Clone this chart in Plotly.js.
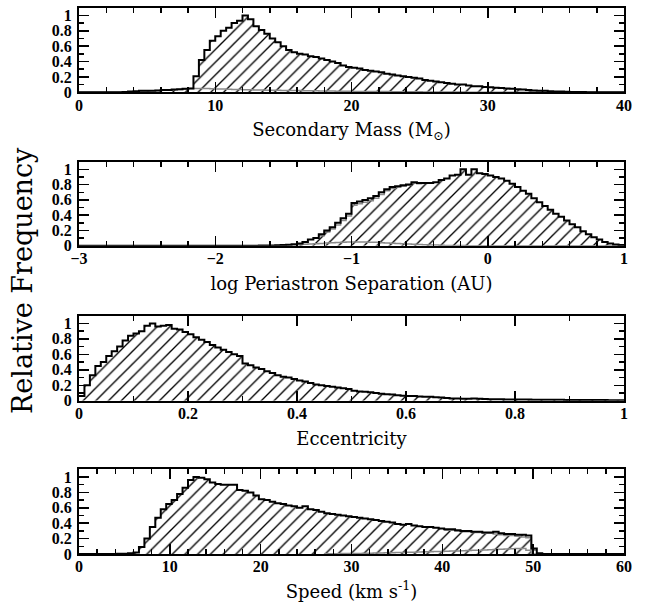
<!DOCTYPE html>
<html>
<head>
<meta charset="utf-8">
<script src="https://cdn.plot.ly/plotly-3.0.1.min.js"></script>
<style>html,body{margin:0;padding:0;background:#fff;}#plot{width:650px;height:602px;}</style>
</head>
<body>
<div id="plot"></div>
<script>
// ---------- Data (relative frequency per bin) ----------
// Panel 1: Secondary mass, 100 bins of 0.4 Msun from 0
const massStart = 0, massWidth = 0.4;
const massMain = [
 0,0,0,0,0,0,0,0,0.005,0.01, 0.015,0.02,0.02,0.02,0.025,0.03,0.03,0.035,0.04,0.045,
 0.05,0.21,0.42,0.55,0.67,0.73,0.8,0.84,0.9,0.93, 1.0,0.95,0.86,0.81,0.76,0.7,0.65,0.6,0.55,0.52,
 0.5,0.49,0.47,0.46,0.44,0.42,0.4,0.38,0.35,0.33, 0.32,0.31,0.29,0.28,0.27,0.26,0.24,0.23,0.22,0.21,
 0.2,0.19,0.18,0.16,0.15,0.14,0.13,0.12,0.11,0.1, 0.1,0.09,0.08,0.08,0.07,0.065,0.06,0.055,0.05,0.045,
 0.04,0.035,0.03,0.025,0.02,0.02,0.015,0.012,0.01,0.008, 0.005,0.004,0.003,0.002,0.002,0.001,0,0,0,0
];
const massSub = [
 0,0,0,0,0,0,0,0,0.004,0.008, 0.012,0.018,0.018,0.02,0.022,0.028,0.028,0.032,0.038,0.042,
 0.048,0.05,0.05,0.048,0.046,0.044,0.042,0.04,0.038,0.036, 0.034,0.032,0.03,0.029,0.028,0.027,0.026,0.025,0.024,0.023,
 0.022,0.021,0.02,0.019,0.018,0.017,0.016,0.015,0.014,0.013, 0.012,0.012,0.011,0.01,0.01,0.009,0.009,0.008,0.008,0.007,
 0.007,0.006,0.006,0.005,0.005,0.004,0.004,0.004,0.003,0.003, 0.003,0.002,0.002,0.002,0.002,0.001,0.001,0.001,0.001,0.001,
 0,0,0,0,0,0,0,0,0,0, 0,0,0,0,0,0,0,0,0,0
];

// Panel 2: log periastron separation, 100 bins of 0.04 from -3
const perStart = -3, perWidth = 0.04;
const perMain = [
 0,0,0,0,0,0,0,0,0,0, 0,0,0,0,0,0,0,0,0,0,
 0,0,0,0,0,0,0,0,0,0, 0,0,0,0.001,0.002,0.003,0.005,0.008,0.012,0.02,
 0.03,0.05,0.08,0.1,0.15,0.2,0.24,0.3,0.36,0.42, 0.56,0.58,0.6,0.62,0.65,0.7,0.74,0.77,0.78,0.79,
 0.8,0.83,0.82,0.82,0.82,0.83,0.86,0.88,0.92,0.93, 1.0,0.93,1.0,0.95,0.94,0.92,0.9,0.88,0.85,0.81,
 0.77,0.72,0.68,0.62,0.57,0.52,0.47,0.42,0.38,0.33, 0.28,0.24,0.19,0.15,0.11,0.08,0.05,0.03,0.015,0.01
];
// grey companion histogram (differs from the main one only between -1.24 and -0.48)
const perAltStart = -1.24;
const perAlt = [0.13,0.18,0.22,0.27,0.33,0.39,0.53,0.55,0.57,0.59,0.62,0.67,0.72,0.75,0.77,0.78,0.79,0.82,0.81];
const perSub = [
 0,0,0,0,0,0,0,0,0,0, 0,0,0,0,0,0,0,0,0,0,
 0,0,0,0,0,0,0,0,0,0, 0,0,0,0,0,0,0.002,0.004,0.006,0.01,
 0.014,0.018,0.022,0.026,0.03,0.034,0.038,0.042,0.046,0.048, 0.05,0.05,0.048,0.046,0.044,0.04,0.036,0.032,0.03,0.026,
 0.022,0.018,0.015,0.012,0.01,0.008,0.006,0.004,0.003,0.002, 0.001,0,0,0,0,0,0,0,0,0,
 0,0,0,0,0,0,0,0,0,0, 0,0,0,0,0,0,0,0,0,0
];

// Panel 3: eccentricity, 100 bins of 0.01 from 0
const eccStart = 0, eccWidth = 0.01;
const eccMain = [
 0.06,0.2,0.33,0.45,0.5,0.58,0.64,0.7,0.78,0.84, 0.87,0.9,0.97,1.0,0.96,0.97,0.98,0.93,0.92,0.89,
 0.86,0.82,0.79,0.76,0.72,0.69,0.66,0.63,0.6,0.58, 0.48,0.46,0.43,0.41,0.38,0.36,0.33,0.31,0.3,0.28,
 0.26,0.25,0.23,0.21,0.2,0.19,0.18,0.17,0.16,0.15, 0.13,0.12,0.115,0.11,0.1,0.09,0.085,0.08,0.07,0.065,
 0.06,0.06,0.055,0.05,0.05,0.045,0.04,0.035,0.03,0.03, 0.025,0.025,0.03,0.025,0.022,0.02,0.02,0.018,0.017,0.016,
 0.015,0.015,0.014,0.013,0.013,0.012,0.012,0.011,0.011,0.01, 0.01,0.01,0.009,0.009,0.008,0.008,0.008,0.007,0.007,0.006
];

// Panel 4: speed, 100 bins of 0.6 km/s from 0
const spdStart = 0, spdWidth = 0.6;
const spdMain = [
 0,0,0,0,0,0,0,0.002,0.004,0.01, 0.02,0.09,0.2,0.35,0.47,0.58,0.65,0.7,0.78,0.86,
 0.96,1.0,0.99,0.97,0.93,0.91,0.9,0.9,0.9,0.83, 0.82,0.8,0.76,0.71,0.7,0.68,0.66,0.65,0.63,0.62,
 0.6,0.62,0.58,0.57,0.55,0.53,0.52,0.51,0.5,0.49, 0.48,0.47,0.46,0.45,0.44,0.43,0.42,0.41,0.39,0.38,
 0.39,0.37,0.36,0.35,0.35,0.34,0.33,0.32,0.32,0.31, 0.3,0.3,0.29,0.29,0.28,0.28,0.29,0.27,0.26,0.26,
 0.25,0.25,0.24,0.07,0.01,0,0,0,0,0, 0,0,0,0,0,0,0,0,0,0
];
// grey companion histogram from 40.2 km/s
const spdAltStart = 40.2;
const spdAlt = [0.31,0.31,0.3,0.29,0.29,0.28,0.28,0.27,0.27,0.26,0.25,0.24,0.24,0.23,0.22,0.21,0.05];
const spdSubStart = 27.0;
const spdSub = [0.002,0.003,0.004,0.005,0.006,0.007,0.008,0.009,0.01,0.012,0.013,0.015,0.016,0.018,0.02,0.022,0.024,0.026,0.028,0.03,
 0.032,0.034,0.036,0.038,0.04,0.042,0.045,0.048,0.05,0.053,0.056,0.06,0.063,0.066,0.068,0.07,0.072,0.05,0.0];

// ---------- Build ----------
function steps(start, width, vals) {
  const x = vals.map((v, i) => start + i * width);
  x.push(start + vals.length * width);
  const y = vals.slice();
  y.push(vals[vals.length - 1]);
  return {x, y};
}
const hatch = {shape: '/', fgcolor: '#000', bgcolor: 'rgba(0,0,0,0)', size: 9, solidity: 0.15};
function fillTrace(s, ax) {
  return {x: s.x, y: s.y, xaxis: 'x' + ax, yaxis: 'y' + ax, type: 'scatter', mode: 'lines',
    line: {shape: 'hv', width: 0, color: 'rgba(0,0,0,0)'}, fill: 'tozeroy', fillcolor: 'rgba(0,0,0,0)',
    fillpattern: hatch, hoverinfo: 'skip'};
}
function lineTrace(s, ax, color, w) {
  return {x: s.x, y: s.y, xaxis: 'x' + ax, yaxis: 'y' + ax, type: 'scatter', mode: 'lines',
    line: {shape: 'hv', width: w, color: color}, hoverinfo: 'skip'};
}
const panels = [
  {main: steps(massStart, massWidth, massMain), greys: [steps(massStart, massWidth, massSub)]},
  {main: steps(perStart, perWidth, perMain), greys: [steps(perAltStart, perWidth, perAlt), steps(perStart, perWidth, perSub)]},
  {main: steps(eccStart, eccWidth, eccMain), greys: []},
  {main: steps(spdStart, spdWidth, spdMain), greys: [steps(spdAltStart, spdWidth, spdAlt), steps(spdSubStart, spdWidth, spdSub)]}
];
const traces = [];
panels.forEach((p, i) => {
  const ax = i === 0 ? '' : String(i + 1);
  traces.push(fillTrace(p.main, ax));
  p.greys.forEach(g => traces.push(lineTrace(g, ax, '#8a8a8a', 1.5)));
  traces.push(lineTrace(p.main, ax, '#000', 2));
});

const tickFont = {family: 'Liberation Serif', size: 16, color: '#000', weight: 'bold'};
const titleFont = {family: 'DejaVu Serif', size: 18, color: '#000'};
function xax(range, dtick, minor, title, anchor) {
  return {range: range, domain: [79/650, 624/650], anchor: anchor, dtick: dtick, tick0: 0,
    ticks: 'inside', ticklen: 10, tickwidth: 1.5, tickcolor: '#000',
    minor: {dtick: minor, ticks: 'inside', ticklen: 5, tickwidth: 1.5, tickcolor: '#000', showgrid: false},
    showline: true, linewidth: 2, linecolor: '#000', mirror: 'allticks', showgrid: false, zeroline: false,
    tickfont: tickFont, ticklabelstandoff: -3, title: {text: title, font: titleFont, standoff: 11}, fixedrange: true};
}
function yax(dom, anchor) {
  return {range: [0, 1.1], domain: dom, anchor: anchor, dtick: 0.2, tick0: 0,
    ticks: 'inside', ticklen: 10, tickwidth: 1.5, tickcolor: '#000',
    minor: {dtick: 0.1, ticks: 'inside', ticklen: 5, tickwidth: 1.5, tickcolor: '#000', showgrid: false},
    showline: true, linewidth: 2, linecolor: '#000', mirror: 'allticks', showgrid: false, zeroline: false,
    tickfont: tickFont, ticklabelstandoff: 2, fixedrange: true};
}
const layout = {
  width: 650, height: 602, margin: {l: 0, r: 0, t: 0, b: 0},
  paper_bgcolor: '#fff', plot_bgcolor: '#fff', showlegend: false,
  xaxis: xax([0, 40], 10, 2, 'Secondary Mass (M<sub>⊙</sub>)', 'y'),
  yaxis: yax([1 - 92.3/602, 1 - 7.7/602], 'x'),
  xaxis2: xax([-3, 1], 1, 0.2, 'log Periastron Separation (AU)', 'y2'),
  yaxis2: yax([1 - 245.7/602, 1 - 161.7/602], 'x2'),
  xaxis3: xax([0, 1], 0.2, 0.1, 'Eccentricity', 'y3'),
  yaxis3: yax([1 - 400.7/602, 1 - 315.7/602], 'x3'),
  xaxis4: xax([0, 60], 10, 2, 'Speed (km s<sup>-1</sup>)', 'y4'),
  yaxis4: yax([1 - 554/602, 1 - 469.3/602], 'x4'),
  annotations: [{text: 'Relative Frequency', textangle: -90, xref: 'paper', yref: 'paper',
    x: 22/650, y: 1 - 281/602, xanchor: 'center', yanchor: 'middle', showarrow: false,
    font: {family: 'DejaVu Serif', size: 27, color: '#000'}}]
};
Plotly.newPlot('plot', traces, layout, {staticPlot: true, displayModeBar: false});
</script>
</body>
</html>
